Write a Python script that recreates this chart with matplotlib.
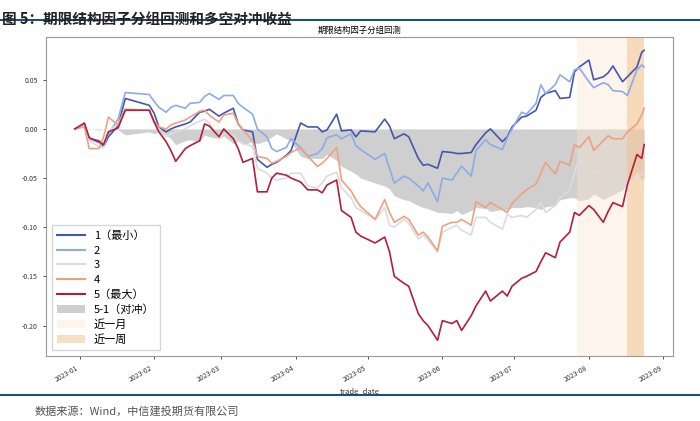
import numpy as np
import pandas as pd
import matplotlib
matplotlib.use('Agg')
import matplotlib.pyplot as plt
import matplotlib.dates as mdates
from matplotlib.lines import Line2D

plt.rcParams['font.family'] = ['Noto Sans CJK SC', 'DejaVu Sans']
plt.rcParams['axes.unicode_minus'] = False

dates = ['2022-12-30', '2023-01-03', '2023-01-05', '2023-01-09', '2023-01-11', '2023-01-13', '2023-01-17', '2023-01-20', '2023-01-30', '2023-02-01',
         '2023-02-03', '2023-02-06', '2023-02-08', '2023-02-10', '2023-02-14', '2023-02-16', '2023-02-20', '2023-02-22', '2023-02-24', '2023-02-28',
         '2023-03-02', '2023-03-06', '2023-03-08', '2023-03-10', '2023-03-14', '2023-03-16', '2023-03-20', '2023-03-22', '2023-03-24', '2023-03-28',
         '2023-03-30', '2023-04-03', '2023-04-06', '2023-04-10', '2023-04-12', '2023-04-14', '2023-04-18', '2023-04-20', '2023-04-24', '2023-04-26',
         '2023-04-28', '2023-05-04', '2023-05-08', '2023-05-10', '2023-05-12', '2023-05-16', '2023-05-18', '2023-05-22', '2023-05-24', '2023-05-26',
         '2023-05-30', '2023-06-01', '2023-06-05', '2023-06-07', '2023-06-09', '2023-06-13', '2023-06-15', '2023-06-19', '2023-06-21', '2023-06-26',
         '2023-06-28', '2023-06-30', '2023-07-04', '2023-07-06', '2023-07-10', '2023-07-12', '2023-07-14', '2023-07-18', '2023-07-20', '2023-07-24',
         '2023-07-26', '2023-07-28', '2023-08-01', '2023-08-03', '2023-08-07', '2023-08-09', '2023-08-11', '2023-08-15', '2023-08-17', '2023-08-21',
         '2023-08-23', '2023-08-24']

g1 = [0.000, 0.004, -0.010, -0.012, -0.018, -0.008, 0.003, 0.031, 0.024, 0.016,
      0.002, -0.003, 0.000, 0.002, 0.005, 0.007, 0.017, 0.018, 0.020, 0.013,
      0.016, 0.021, 0.005, -0.001, -0.003, -0.031, -0.039, -0.036, -0.034, -0.027,
      -0.022, 0.006, 0.002, 0.002, -0.003, -0.001, 0.015, -0.002, -0.001, -0.008,
      -0.002, -0.003, 0.010, 0.003, -0.010, -0.005, -0.008, -0.030, -0.037, -0.036,
      -0.040, -0.023, -0.024, -0.025, -0.025, -0.024, -0.016, -0.004, 0.000, -0.013,
      -0.008, 0.002, 0.012, 0.013, 0.019, 0.032, 0.036, 0.039, 0.031, 0.032,
      0.058, 0.063, 0.070, 0.050, 0.053, 0.057, 0.064, 0.048, 0.053, 0.063,
      0.078, 0.080]

g2 = [0.000, 0.004, -0.010, -0.014, -0.015, -0.005, 0.010, 0.037, 0.035, 0.028,
      0.022, 0.017, 0.022, 0.024, 0.021, 0.026, 0.027, 0.033, 0.036, 0.030,
      0.034, 0.034, 0.026, 0.022, 0.015, 0.000, -0.008, -0.020, -0.023, -0.019,
      -0.010, -0.019, -0.028, -0.025, -0.020, -0.009, -0.006, -0.010, -0.005, -0.017,
      -0.021, -0.031, -0.025, -0.040, -0.055, -0.048, -0.050, -0.058, -0.063, -0.055,
      -0.074, -0.050, -0.052, -0.045, -0.038, -0.048, -0.022, -0.011, -0.016, -0.021,
      -0.009, 0.000, 0.017, 0.015, 0.026, 0.045, 0.036, 0.045, 0.055, 0.048,
      0.060, 0.062, 0.048, 0.042, 0.047, 0.045, 0.039, 0.038, 0.034, 0.060,
      0.065, 0.063]

g3 = [0.000, 0.003, -0.012, -0.018, -0.019, -0.002, 0.005, 0.020, 0.019, 0.008,
      -0.002, -0.008, -0.005, -0.003, 0.000, 0.003, 0.008, 0.010, 0.006, -0.010,
      -0.005, -0.006, -0.012, -0.015, -0.018, -0.040, -0.045, -0.050, -0.052, -0.050,
      -0.045, -0.045, -0.058, -0.060, -0.055, -0.048, -0.044, -0.060, -0.070, -0.080,
      -0.083, -0.092, -0.080, -0.098, -0.100, -0.092, -0.096, -0.112, -0.108, -0.113,
      -0.125, -0.105, -0.100, -0.098, -0.103, -0.108, -0.090, -0.090, -0.095, -0.102,
      -0.087, -0.090, -0.088, -0.090, -0.082, -0.075, -0.085, -0.078, -0.070, -0.062,
      -0.045, -0.030, -0.040, -0.045, -0.042, -0.040, -0.048, -0.059, -0.055, -0.050,
      -0.045, -0.048]

g4 = [0.000, 0.002, -0.020, -0.020, -0.008, 0.012, 0.004, 0.020, 0.019, 0.008,
      0.002, 0.000, 0.004, 0.006, 0.009, 0.012, 0.018, 0.019, 0.014, 0.007,
      0.014, 0.016, 0.005, -0.001, -0.012, -0.028, -0.030, -0.035, -0.033, -0.028,
      -0.024, -0.019, -0.028, -0.038, -0.035, -0.030, -0.019, -0.052, -0.063, -0.072,
      -0.079, -0.092, -0.072, -0.085, -0.095, -0.089, -0.092, -0.108, -0.105, -0.110,
      -0.124, -0.099, -0.095, -0.095, -0.092, -0.098, -0.074, -0.080, -0.075, -0.082,
      -0.085, -0.076, -0.066, -0.062, -0.056, -0.045, -0.034, -0.046, -0.033, -0.037,
      -0.016, -0.019, -0.008, -0.022, -0.012, -0.007, -0.010, -0.010, -0.003, 0.005,
      0.014, 0.021]

g5 = [0.000, 0.006, -0.009, -0.013, -0.016, -0.003, 0.001, 0.019, 0.019, 0.007,
      -0.003, -0.013, -0.022, -0.033, -0.020, -0.017, -0.012, 0.005, 0.003, -0.008,
      0.000, -0.010, -0.020, -0.034, -0.030, -0.064, -0.064, -0.050, -0.045, -0.047,
      -0.050, -0.054, -0.062, -0.062, -0.065, -0.057, -0.052, -0.083, -0.090, -0.105,
      -0.109, -0.116, -0.110, -0.125, -0.150, -0.157, -0.160, -0.188, -0.195, -0.200,
      -0.215, -0.195, -0.198, -0.195, -0.205, -0.190, -0.180, -0.165, -0.175, -0.165,
      -0.170, -0.160, -0.152, -0.150, -0.145, -0.135, -0.126, -0.131, -0.115, -0.105,
      -0.085, -0.088, -0.078, -0.082, -0.095, -0.084, -0.075, -0.079, -0.057, -0.026,
      -0.030, -0.016]

hedge = [0.000, 0.000, 0.000, -0.001, 0.000, 0.000, -0.001, -0.006, -0.003, -0.005,
         -0.003, -0.006, -0.010, -0.016, -0.012, -0.011, -0.013, -0.006, -0.008, -0.010,
         -0.007, -0.015, -0.012, -0.016, -0.013, -0.015, -0.012, -0.008, -0.005, -0.010,
         -0.013, -0.028, -0.030, -0.030, -0.030, -0.026, -0.032, -0.038, -0.043, -0.046,
         -0.050, -0.055, -0.058, -0.061, -0.068, -0.072, -0.073, -0.078, -0.080, -0.081,
         -0.085, -0.085, -0.086, -0.083, -0.087, -0.083, -0.080, -0.081, -0.084, -0.082,
         -0.082, -0.080, -0.080, -0.079, -0.080, -0.082, -0.079, -0.078, -0.072, -0.070,
         -0.070, -0.073, -0.071, -0.066, -0.072, -0.069, -0.067, -0.062, -0.055, -0.044,
         -0.052, -0.050]

labels = ['1（最小）', '2', '3', '4', '5（最大）']
colors = ['#4456b0', '#8dabe8', '#dcdcdc', '#eca183', '#b01f40']
month_start, week_start, last_day = '2023-07-27', '2023-08-17', '2023-08-24'

x = pd.to_datetime(dates)
groups = [g1, g2, g3, g4, g5]

fig = plt.figure(figsize=(7, 4.21), dpi=100)
ax = fig.add_axes([0.0657, 0.1544, 0.8957, 0.7577])

ax.fill_between(x, hedge, 0, color='#cfcfcf', lw=0, zorder=1)
ax.axvspan(pd.Timestamp(month_start), pd.Timestamp(last_day), color='#fbe6d0', alpha=0.4, lw=0, zorder=1.5)
ax.axvspan(pd.Timestamp(week_start), pd.Timestamp(last_day), color='#f0c08a', alpha=0.5, lw=0, zorder=1.6)

for g, c in zip(groups, colors):
    ax.plot(x, g, color=c, lw=1.2, zorder=2)

ax.set_ylim(-0.231, 0.0935)
ax.set_xlim(pd.Timestamp('2022-12-18'), pd.Timestamp('2023-09-05'))
ax.set_yticks([-0.20, -0.15, -0.10, -0.05, 0.00, 0.05])
ax.yaxis.set_major_formatter(plt.FormatStrFormatter('%.2f'))
ax.xaxis.set_major_locator(mdates.MonthLocator())
ax.xaxis.set_major_formatter(mdates.DateFormatter('%Y-%m'))
for lab in ax.get_xticklabels():
    lab.set_rotation(30)
    lab.set_ha('right')
ax.tick_params(labelsize=5, colors='#333333', length=2.5, width=0.6)
for s in ax.spines.values():
    s.set_color('#999999')
    s.set_linewidth(0.8)
ax.set_xlabel('trade_date', fontsize=5.5, color='#333333', labelpad=2)
ax.set_title('期限结构因子分组回测', fontsize=6, pad=3)

handles = [Line2D([], [], color=c, lw=1.5) for c in colors]
handles.append(plt.Rectangle((0, 0), 1, 1, color='#cfcfcf', lw=0))
handles.append(plt.Rectangle((0, 0), 1, 1, color='#fbe6d0', alpha=0.4, lw=0))
handles.append(plt.Rectangle((0, 0), 1, 1, color='#f0c08a', alpha=0.5, lw=0))
ax.legend(handles, labels + ['5-1（对冲）', '近一月', '近一周'], loc='lower left',
          fontsize=8, labelspacing=0.4, handlelength=2.5, borderpad=0.5,
          frameon=True, edgecolor='#cccccc', fancybox=False)

fig.text(0.003, 0.975, '图 5：期限结构因子分组回测和多空对冲收益', fontsize=10.5, fontweight='bold',
         color='#222222', va='top')
fig.add_artist(Line2D([0, 1], [0.952, 0.952], color='#1f4e79', lw=1.5))
fig.add_artist(Line2D([0, 1], [0.062, 0.062], color='#1f4e79', lw=1.5))
fig.text(0.05, 0.022, '数据来源：Wind，中信建投期货有限公司', fontsize=8, color='#555555',
         style='italic', va='center')

fig.savefig('out.png', dpi=100)
